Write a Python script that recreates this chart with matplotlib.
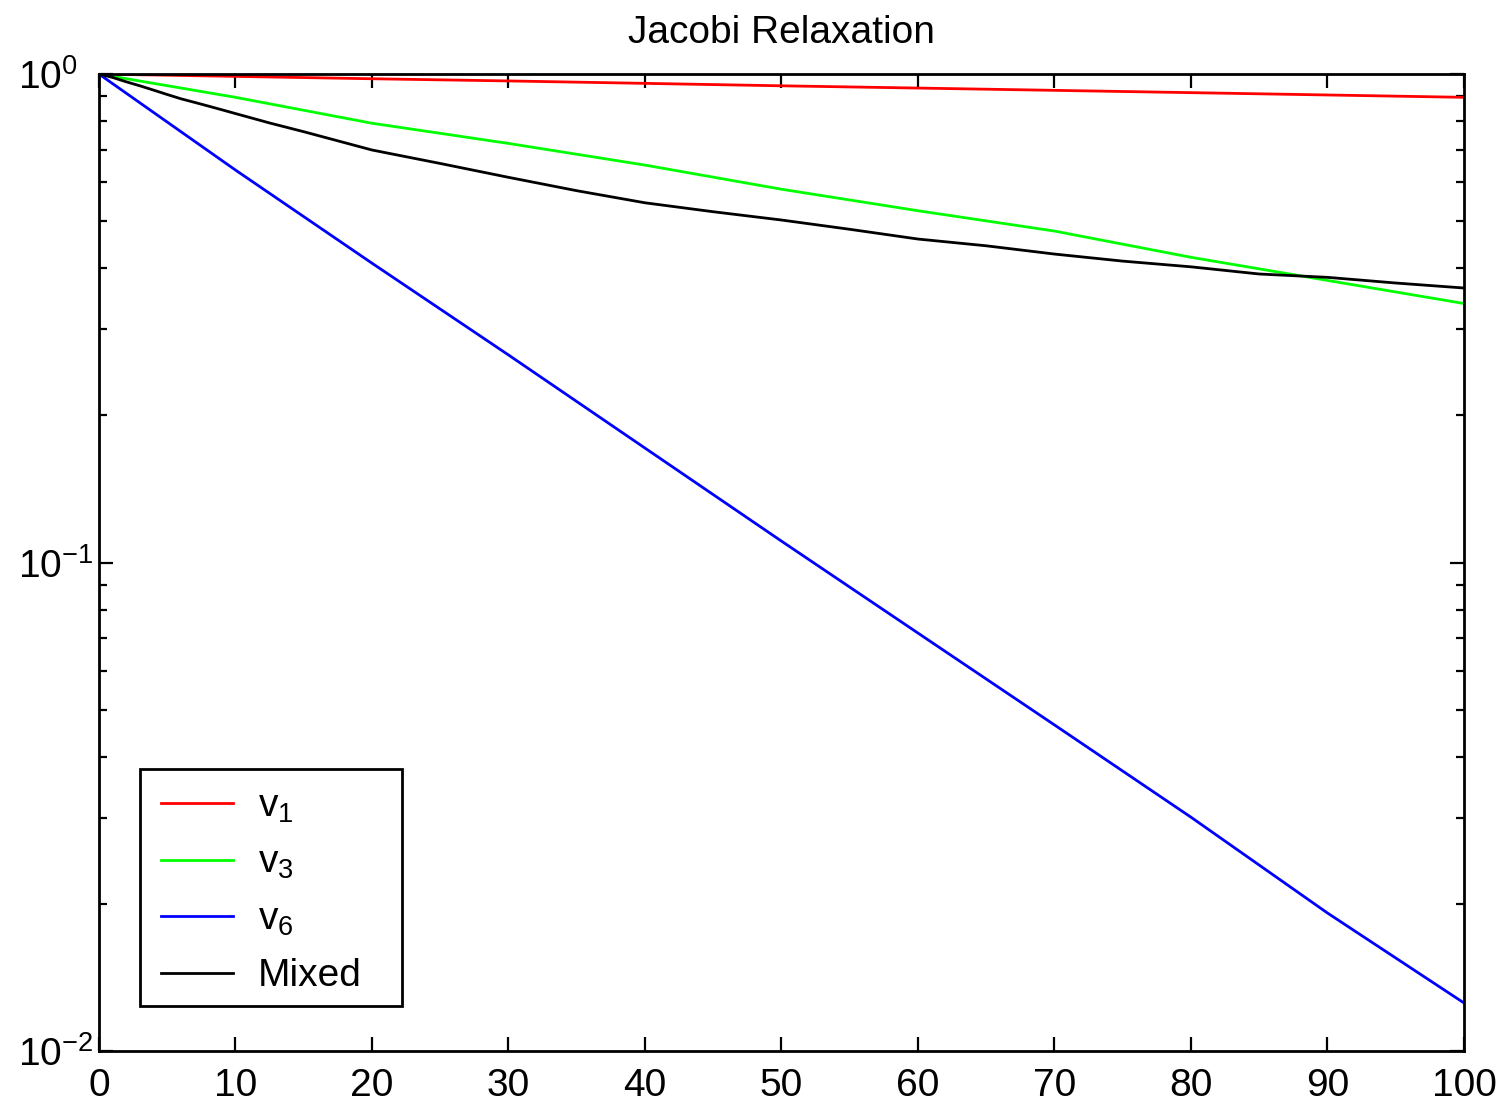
import matplotlib
matplotlib.use("Agg")
import matplotlib.pyplot as plt
from matplotlib.patches import Rectangle
from matplotlib.ticker import LogLocator, NullFormatter, FixedLocator

plt.rcParams["font.family"] = ["Liberation Sans", "DejaVu Sans"]
plt.rcParams["mathtext.fontset"] = "custom"
plt.rcParams["mathtext.rm"] = "Liberation Sans"
plt.rcParams["mathtext.it"] = "Liberation Sans"

# Error norm vs. iteration for each initial mode
iters_coarse = [0, 10, 20, 30, 40, 50, 60, 70, 80, 90, 100]
err_v1 = [1.0, 0.989, 0.978, 0.968, 0.957, 0.946, 0.936, 0.926, 0.916, 0.906, 0.896]
err_v3 = [1.0, 0.896, 0.793, 0.721, 0.651, 0.581, 0.525, 0.477, 0.4215, 0.378, 0.339]
err_v6 = [1.0, 0.636, 0.410, 0.266, 0.1715, 0.1106, 0.0717, 0.0465, 0.0301, 0.01916, 0.01254]

iters_mixed = [0, 1, 2, 3, 4, 5, 6, 7, 8, 9, 10, 12.5, 15, 20, 25, 30, 35, 40,
               45, 50, 55, 60, 65, 70, 75, 80, 85, 90, 95, 100]
err_mixed = [1.0, 0.984, 0.964, 0.946, 0.927, 0.908, 0.890, 0.875, 0.860, 0.845,
             0.830, 0.794, 0.762, 0.699, 0.656, 0.6145, 0.577, 0.545, 0.5225,
             0.5025, 0.481, 0.4594, 0.445, 0.428, 0.414, 0.403, 0.3896, 0.3835,
             0.3734, 0.3647]

labels = [r"v$_1$", r"v$_3$", r"v$_6$", "Mixed"]
colors = ["#ff0000", "#00ff00", "#0000ff", "#000000"]
xticks = [0, 10, 20, 30, 40, 50, 60, 70, 80, 90, 100]

fig = plt.figure(figsize=(15.04, 11.05), dpi=100)
ax = fig.add_axes([0.0658, 0.0489, 0.9076, 0.8841])

lw = 2.0
ax.plot(iters_coarse, err_v1, color=colors[0], lw=lw, label=labels[0])
ax.plot(iters_coarse, err_v3, color=colors[1], lw=lw, label=labels[1])
ax.plot(iters_coarse, err_v6, color=colors[2], lw=lw, label=labels[2])
ax.plot(iters_mixed, err_mixed, color=colors[3], lw=lw, label=labels[3])

ax.set_yscale("log")
ax.set_xlim(0, 100)
ax.set_ylim(1e-2, 1e0)
ax.xaxis.set_major_locator(FixedLocator(xticks))
ax.yaxis.set_major_locator(LogLocator(base=10, numticks=10))
ax.yaxis.set_minor_locator(LogLocator(base=10, subs=range(2, 10), numticks=10))
ax.yaxis.set_minor_formatter(NullFormatter())

for s in ax.spines.values():
    s.set_linewidth(2.0)

ax.tick_params(axis="both", which="both", direction="in", top=True, right=True,
               labelsize=28, width=1.6)
ax.tick_params(axis="x", which="major", length=10, pad=12)
ax.tick_params(axis="y", which="major", length=10, pad=58)
ax.tick_params(axis="y", which="minor", length=6)
for lab in ax.get_yticklabels():
    lab.set_horizontalalignment("left")

ax.set_title("Jacobi Relaxation", fontsize=28, pad=22)

# legend entries without their own frame; the box is drawn separately
leg = ax.legend(loc="center left", bbox_to_anchor=(0.0454, 0.1633), borderaxespad=0,
                fontsize=28, handlelength=1.85, handletextpad=0.65,
                labelspacing=0.52, borderpad=0.0, frameon=False)
ax.add_patch(Rectangle((0.0300, 0.0461), 0.192, 0.2425, transform=ax.transAxes,
                       facecolor="white", edgecolor="black", lw=2.0, zorder=4.5))
leg.set_zorder(5)

fig.savefig("out.png", dpi=100, facecolor="white")
